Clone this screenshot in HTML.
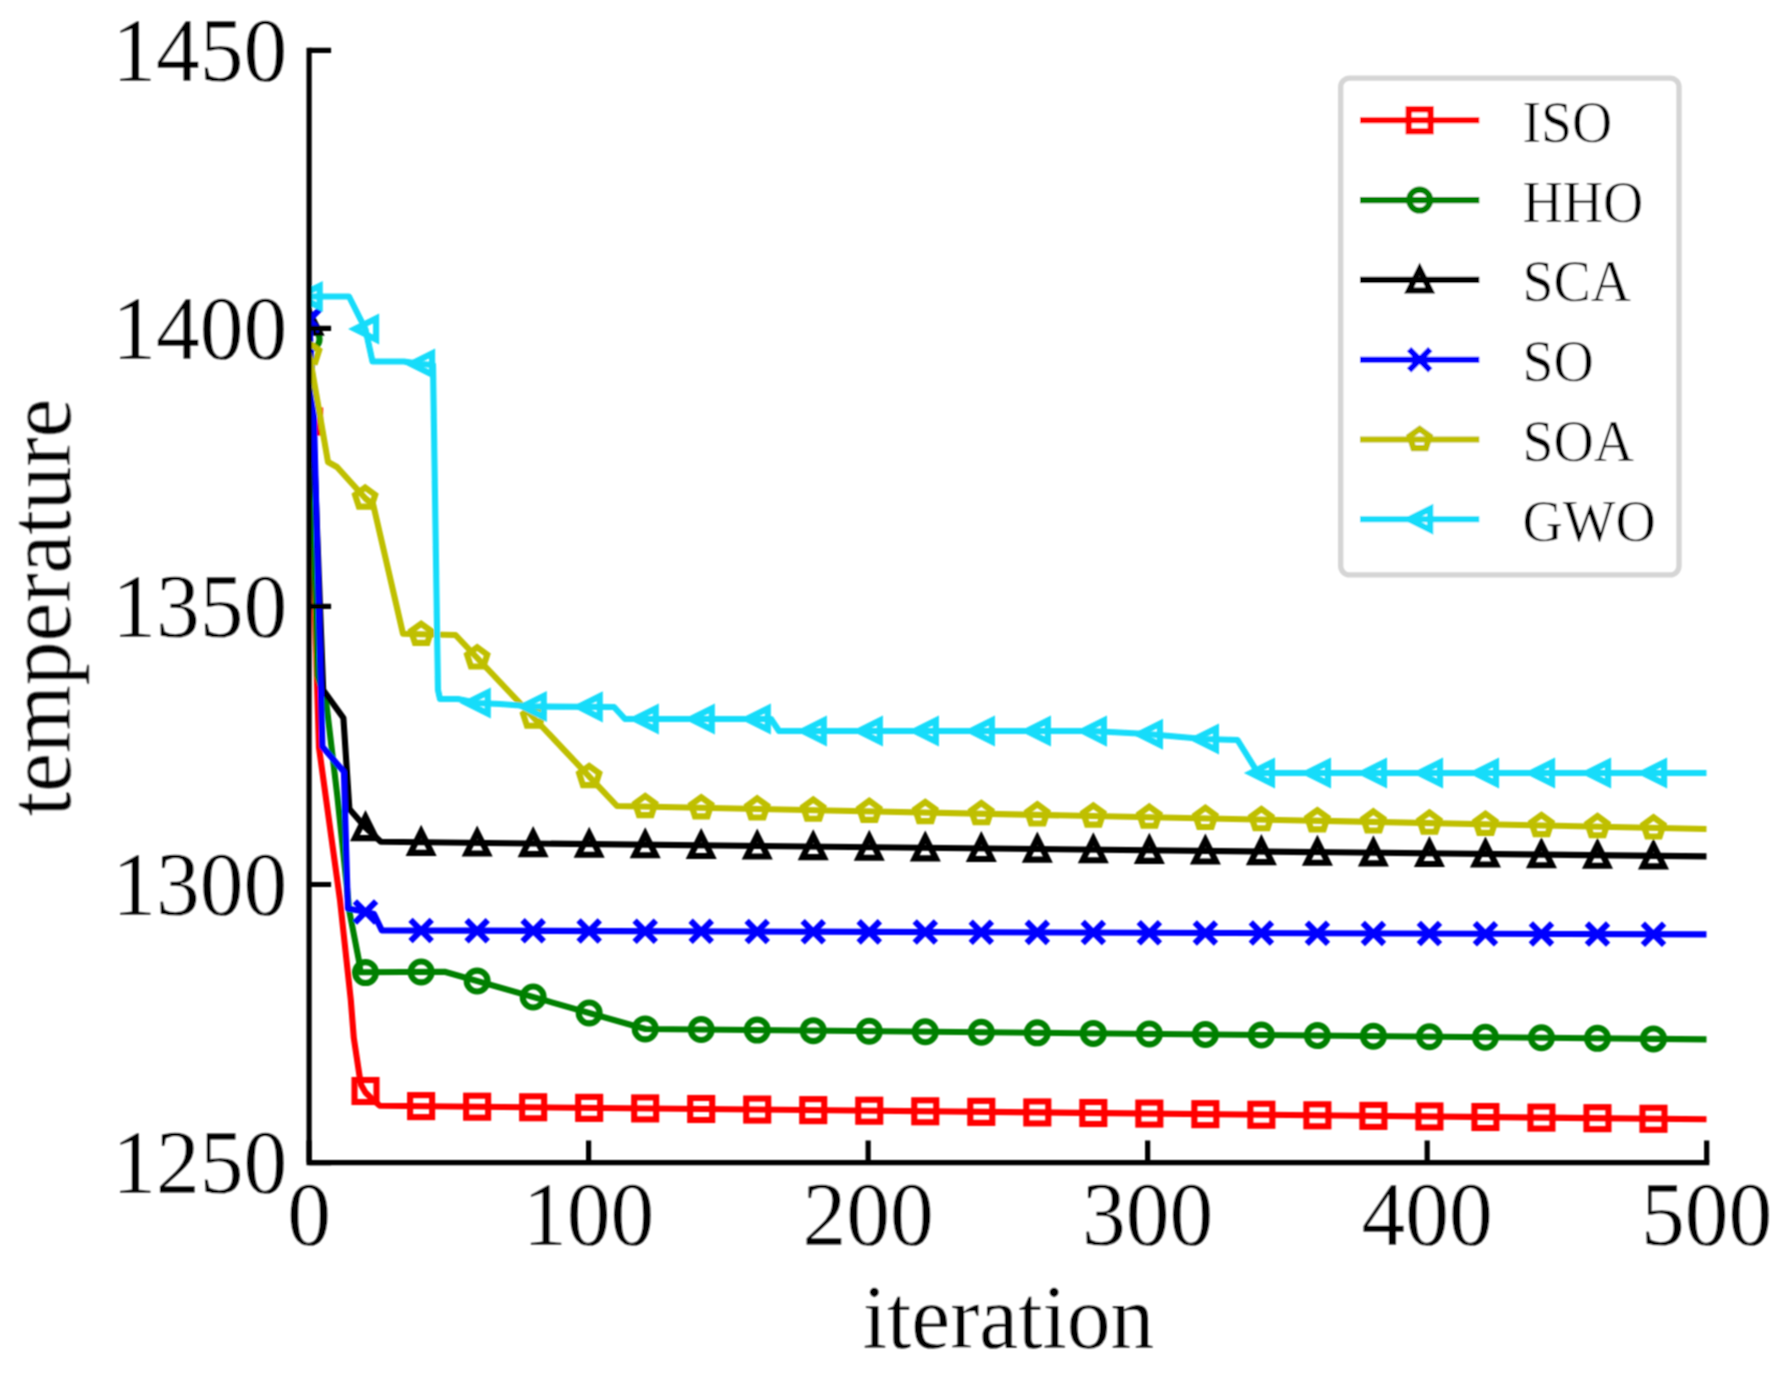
<!DOCTYPE html>
<html><head><meta charset="utf-8"><title>convergence</title>
<style>html,body{margin:0;padding:0;background:#fff}body{width:1785px;height:1373px;overflow:hidden}</style></head>
<body>
<svg width="1785" height="1373" viewBox="0 0 1785 1373" style="display:block">
<rect width="1785" height="1373" fill="#ffffff"/>
<defs><filter id="soft" filterUnits="userSpaceOnUse" x="0" y="0" width="1785" height="1373"><feConvolveMatrix order="3" kernelMatrix="0.0625 0.1250 0.0625 0.1250 0.2500 0.1250 0.0625 0.1250 0.0625" edgeMode="duplicate"/></filter><clipPath id="axclip"><rect x="309.1" y="50.3" width="1397.6" height="1112.26"/></clipPath></defs>
<g filter="url(#soft)">
<g clip-path="url(#axclip)">
<path d="M309.1,421.5 L319.0,747.7 L340.0,900.0 L350.8,1000.0 L353.8,1037.9 L359.8,1077.8 L361.2,1085.0 L365.5,1092.5 L371.8,1098.7 L379.8,1105.7 L1706.7,1119.3" fill="none" stroke="#ff0000" stroke-width="6.1" stroke-linejoin="round" stroke-linecap="butt"/>
<rect x="298.10" y="410.50" width="22.0" height="22.0" fill="none" stroke="#ff0000" stroke-width="6.1" stroke-linejoin="miter"/>
<rect x="354.50" y="1080.00" width="22.0" height="22.0" fill="none" stroke="#ff0000" stroke-width="6.1" stroke-linejoin="miter"/>
<rect x="410.13" y="1095.12" width="22.0" height="22.0" fill="none" stroke="#ff0000" stroke-width="6.1" stroke-linejoin="miter"/>
<rect x="466.15" y="1095.70" width="22.0" height="22.0" fill="none" stroke="#ff0000" stroke-width="6.1" stroke-linejoin="miter"/>
<rect x="522.16" y="1096.27" width="22.0" height="22.0" fill="none" stroke="#ff0000" stroke-width="6.1" stroke-linejoin="miter"/>
<rect x="578.18" y="1096.85" width="22.0" height="22.0" fill="none" stroke="#ff0000" stroke-width="6.1" stroke-linejoin="miter"/>
<rect x="634.20" y="1097.42" width="22.0" height="22.0" fill="none" stroke="#ff0000" stroke-width="6.1" stroke-linejoin="miter"/>
<rect x="690.21" y="1097.99" width="22.0" height="22.0" fill="none" stroke="#ff0000" stroke-width="6.1" stroke-linejoin="miter"/>
<rect x="746.23" y="1098.57" width="22.0" height="22.0" fill="none" stroke="#ff0000" stroke-width="6.1" stroke-linejoin="miter"/>
<rect x="802.24" y="1099.14" width="22.0" height="22.0" fill="none" stroke="#ff0000" stroke-width="6.1" stroke-linejoin="miter"/>
<rect x="858.26" y="1099.72" width="22.0" height="22.0" fill="none" stroke="#ff0000" stroke-width="6.1" stroke-linejoin="miter"/>
<rect x="914.28" y="1100.29" width="22.0" height="22.0" fill="none" stroke="#ff0000" stroke-width="6.1" stroke-linejoin="miter"/>
<rect x="970.29" y="1100.86" width="22.0" height="22.0" fill="none" stroke="#ff0000" stroke-width="6.1" stroke-linejoin="miter"/>
<rect x="1026.31" y="1101.44" width="22.0" height="22.0" fill="none" stroke="#ff0000" stroke-width="6.1" stroke-linejoin="miter"/>
<rect x="1082.32" y="1102.01" width="22.0" height="22.0" fill="none" stroke="#ff0000" stroke-width="6.1" stroke-linejoin="miter"/>
<rect x="1138.34" y="1102.59" width="22.0" height="22.0" fill="none" stroke="#ff0000" stroke-width="6.1" stroke-linejoin="miter"/>
<rect x="1194.36" y="1103.16" width="22.0" height="22.0" fill="none" stroke="#ff0000" stroke-width="6.1" stroke-linejoin="miter"/>
<rect x="1250.37" y="1103.74" width="22.0" height="22.0" fill="none" stroke="#ff0000" stroke-width="6.1" stroke-linejoin="miter"/>
<rect x="1306.39" y="1104.31" width="22.0" height="22.0" fill="none" stroke="#ff0000" stroke-width="6.1" stroke-linejoin="miter"/>
<rect x="1362.40" y="1104.88" width="22.0" height="22.0" fill="none" stroke="#ff0000" stroke-width="6.1" stroke-linejoin="miter"/>
<rect x="1418.42" y="1105.46" width="22.0" height="22.0" fill="none" stroke="#ff0000" stroke-width="6.1" stroke-linejoin="miter"/>
<rect x="1474.44" y="1106.03" width="22.0" height="22.0" fill="none" stroke="#ff0000" stroke-width="6.1" stroke-linejoin="miter"/>
<rect x="1530.45" y="1106.61" width="22.0" height="22.0" fill="none" stroke="#ff0000" stroke-width="6.1" stroke-linejoin="miter"/>
<rect x="1586.47" y="1107.18" width="22.0" height="22.0" fill="none" stroke="#ff0000" stroke-width="6.1" stroke-linejoin="miter"/>
<rect x="1642.48" y="1107.75" width="22.0" height="22.0" fill="none" stroke="#ff0000" stroke-width="6.1" stroke-linejoin="miter"/>
<path d="M309.1,339.0 L317.6,676.0 L326.4,703.9 L337.4,796.6 L349.5,912.0 L358.8,959.8 L360.5,972.3 L444.6,971.8 L645.5,1029.0 L1706.7,1039.4" fill="none" stroke="#008000" stroke-width="6.1" stroke-linejoin="round" stroke-linecap="butt"/>
<circle cx="309.10" cy="339.00" r="10.45" fill="none" stroke="#008000" stroke-width="6.1"/>
<circle cx="365.50" cy="972.60" r="10.45" fill="none" stroke="#008000" stroke-width="6.1"/>
<circle cx="421.13" cy="971.94" r="10.45" fill="none" stroke="#008000" stroke-width="6.1"/>
<circle cx="477.15" cy="981.07" r="10.45" fill="none" stroke="#008000" stroke-width="6.1"/>
<circle cx="533.16" cy="997.02" r="10.45" fill="none" stroke="#008000" stroke-width="6.1"/>
<circle cx="589.18" cy="1012.96" r="10.45" fill="none" stroke="#008000" stroke-width="6.1"/>
<circle cx="645.20" cy="1028.91" r="10.45" fill="none" stroke="#008000" stroke-width="6.1"/>
<circle cx="701.21" cy="1029.55" r="10.45" fill="none" stroke="#008000" stroke-width="6.1"/>
<circle cx="757.23" cy="1030.09" r="10.45" fill="none" stroke="#008000" stroke-width="6.1"/>
<circle cx="813.24" cy="1030.64" r="10.45" fill="none" stroke="#008000" stroke-width="6.1"/>
<circle cx="869.26" cy="1031.19" r="10.45" fill="none" stroke="#008000" stroke-width="6.1"/>
<circle cx="925.28" cy="1031.74" r="10.45" fill="none" stroke="#008000" stroke-width="6.1"/>
<circle cx="981.29" cy="1032.29" r="10.45" fill="none" stroke="#008000" stroke-width="6.1"/>
<circle cx="1037.31" cy="1032.84" r="10.45" fill="none" stroke="#008000" stroke-width="6.1"/>
<circle cx="1093.32" cy="1033.39" r="10.45" fill="none" stroke="#008000" stroke-width="6.1"/>
<circle cx="1149.34" cy="1033.94" r="10.45" fill="none" stroke="#008000" stroke-width="6.1"/>
<circle cx="1205.36" cy="1034.49" r="10.45" fill="none" stroke="#008000" stroke-width="6.1"/>
<circle cx="1261.37" cy="1035.04" r="10.45" fill="none" stroke="#008000" stroke-width="6.1"/>
<circle cx="1317.39" cy="1035.58" r="10.45" fill="none" stroke="#008000" stroke-width="6.1"/>
<circle cx="1373.40" cy="1036.13" r="10.45" fill="none" stroke="#008000" stroke-width="6.1"/>
<circle cx="1429.42" cy="1036.68" r="10.45" fill="none" stroke="#008000" stroke-width="6.1"/>
<circle cx="1485.44" cy="1037.23" r="10.45" fill="none" stroke="#008000" stroke-width="6.1"/>
<circle cx="1541.45" cy="1037.78" r="10.45" fill="none" stroke="#008000" stroke-width="6.1"/>
<circle cx="1597.47" cy="1038.33" r="10.45" fill="none" stroke="#008000" stroke-width="6.1"/>
<circle cx="1653.48" cy="1038.88" r="10.45" fill="none" stroke="#008000" stroke-width="6.1"/>
<path d="M309.1,322.0 L323.2,690.0 L343.4,718.0 L349.4,809.0 L365.5,827.5 L380.8,841.8 L1706.7,856.4" fill="none" stroke="#000000" stroke-width="6.1" stroke-linejoin="round" stroke-linecap="butt"/>
<path d="M309.10,311.40 L298.50,332.60 L319.70,332.60 Z" fill="none" stroke="#000000" stroke-width="6.1" stroke-linejoin="miter" stroke-miterlimit="10"/>
<path d="M365.50,816.90 L354.90,838.10 L376.10,838.10 Z" fill="none" stroke="#000000" stroke-width="6.1" stroke-linejoin="miter" stroke-miterlimit="10"/>
<path d="M421.13,831.64 L410.53,852.84 L431.73,852.84 Z" fill="none" stroke="#000000" stroke-width="6.1" stroke-linejoin="miter" stroke-miterlimit="10"/>
<path d="M477.15,832.26 L466.55,853.46 L487.75,853.46 Z" fill="none" stroke="#000000" stroke-width="6.1" stroke-linejoin="miter" stroke-miterlimit="10"/>
<path d="M533.16,832.88 L522.56,854.08 L543.76,854.08 Z" fill="none" stroke="#000000" stroke-width="6.1" stroke-linejoin="miter" stroke-miterlimit="10"/>
<path d="M589.18,833.49 L578.58,854.69 L599.78,854.69 Z" fill="none" stroke="#000000" stroke-width="6.1" stroke-linejoin="miter" stroke-miterlimit="10"/>
<path d="M645.20,834.11 L634.60,855.31 L655.80,855.31 Z" fill="none" stroke="#000000" stroke-width="6.1" stroke-linejoin="miter" stroke-miterlimit="10"/>
<path d="M701.21,834.73 L690.61,855.93 L711.81,855.93 Z" fill="none" stroke="#000000" stroke-width="6.1" stroke-linejoin="miter" stroke-miterlimit="10"/>
<path d="M757.23,835.34 L746.63,856.54 L767.83,856.54 Z" fill="none" stroke="#000000" stroke-width="6.1" stroke-linejoin="miter" stroke-miterlimit="10"/>
<path d="M813.24,835.96 L802.64,857.16 L823.84,857.16 Z" fill="none" stroke="#000000" stroke-width="6.1" stroke-linejoin="miter" stroke-miterlimit="10"/>
<path d="M869.26,836.58 L858.66,857.78 L879.86,857.78 Z" fill="none" stroke="#000000" stroke-width="6.1" stroke-linejoin="miter" stroke-miterlimit="10"/>
<path d="M925.28,837.20 L914.68,858.40 L935.88,858.40 Z" fill="none" stroke="#000000" stroke-width="6.1" stroke-linejoin="miter" stroke-miterlimit="10"/>
<path d="M981.29,837.81 L970.69,859.01 L991.89,859.01 Z" fill="none" stroke="#000000" stroke-width="6.1" stroke-linejoin="miter" stroke-miterlimit="10"/>
<path d="M1037.31,838.43 L1026.71,859.63 L1047.91,859.63 Z" fill="none" stroke="#000000" stroke-width="6.1" stroke-linejoin="miter" stroke-miterlimit="10"/>
<path d="M1093.32,839.05 L1082.72,860.25 L1103.92,860.25 Z" fill="none" stroke="#000000" stroke-width="6.1" stroke-linejoin="miter" stroke-miterlimit="10"/>
<path d="M1149.34,839.66 L1138.74,860.86 L1159.94,860.86 Z" fill="none" stroke="#000000" stroke-width="6.1" stroke-linejoin="miter" stroke-miterlimit="10"/>
<path d="M1205.36,840.28 L1194.76,861.48 L1215.96,861.48 Z" fill="none" stroke="#000000" stroke-width="6.1" stroke-linejoin="miter" stroke-miterlimit="10"/>
<path d="M1261.37,840.90 L1250.77,862.10 L1271.97,862.10 Z" fill="none" stroke="#000000" stroke-width="6.1" stroke-linejoin="miter" stroke-miterlimit="10"/>
<path d="M1317.39,841.51 L1306.79,862.71 L1327.99,862.71 Z" fill="none" stroke="#000000" stroke-width="6.1" stroke-linejoin="miter" stroke-miterlimit="10"/>
<path d="M1373.40,842.13 L1362.80,863.33 L1384.00,863.33 Z" fill="none" stroke="#000000" stroke-width="6.1" stroke-linejoin="miter" stroke-miterlimit="10"/>
<path d="M1429.42,842.75 L1418.82,863.95 L1440.02,863.95 Z" fill="none" stroke="#000000" stroke-width="6.1" stroke-linejoin="miter" stroke-miterlimit="10"/>
<path d="M1485.44,843.36 L1474.84,864.56 L1496.04,864.56 Z" fill="none" stroke="#000000" stroke-width="6.1" stroke-linejoin="miter" stroke-miterlimit="10"/>
<path d="M1541.45,843.98 L1530.85,865.18 L1552.05,865.18 Z" fill="none" stroke="#000000" stroke-width="6.1" stroke-linejoin="miter" stroke-miterlimit="10"/>
<path d="M1597.47,844.60 L1586.87,865.80 L1608.07,865.80 Z" fill="none" stroke="#000000" stroke-width="6.1" stroke-linejoin="miter" stroke-miterlimit="10"/>
<path d="M1653.48,845.21 L1642.88,866.41 L1664.08,866.41 Z" fill="none" stroke="#000000" stroke-width="6.1" stroke-linejoin="miter" stroke-miterlimit="10"/>
<path d="M309.1,320.0 L313.5,400.0 L322.4,746.7 L343.9,771.7 L347.9,908.6 L364.8,911.8 L374.0,914.0 L381.8,930.4 L1706.7,934.4" fill="none" stroke="#0000ff" stroke-width="6.1" stroke-linejoin="round" stroke-linecap="butt"/>
<path d="M298.50,309.40 L319.70,330.60 M298.50,330.60 L319.70,309.40" fill="none" stroke="#0000ff" stroke-width="6.1" stroke-linecap="butt"/>
<path d="M354.90,901.40 L376.10,922.60 M354.90,922.60 L376.10,901.40" fill="none" stroke="#0000ff" stroke-width="6.1" stroke-linecap="butt"/>
<path d="M410.53,919.92 L431.73,941.12 M410.53,941.12 L431.73,919.92" fill="none" stroke="#0000ff" stroke-width="6.1" stroke-linecap="butt"/>
<path d="M466.55,920.09 L487.75,941.29 M466.55,941.29 L487.75,920.09" fill="none" stroke="#0000ff" stroke-width="6.1" stroke-linecap="butt"/>
<path d="M522.56,920.26 L543.76,941.46 M522.56,941.46 L543.76,920.26" fill="none" stroke="#0000ff" stroke-width="6.1" stroke-linecap="butt"/>
<path d="M578.58,920.43 L599.78,941.63 M578.58,941.63 L599.78,920.43" fill="none" stroke="#0000ff" stroke-width="6.1" stroke-linecap="butt"/>
<path d="M634.60,920.60 L655.80,941.80 M634.60,941.80 L655.80,920.60" fill="none" stroke="#0000ff" stroke-width="6.1" stroke-linecap="butt"/>
<path d="M690.61,920.76 L711.81,941.96 M690.61,941.96 L711.81,920.76" fill="none" stroke="#0000ff" stroke-width="6.1" stroke-linecap="butt"/>
<path d="M746.63,920.93 L767.83,942.13 M746.63,942.13 L767.83,920.93" fill="none" stroke="#0000ff" stroke-width="6.1" stroke-linecap="butt"/>
<path d="M802.64,921.10 L823.84,942.30 M802.64,942.30 L823.84,921.10" fill="none" stroke="#0000ff" stroke-width="6.1" stroke-linecap="butt"/>
<path d="M858.66,921.27 L879.86,942.47 M858.66,942.47 L879.86,921.27" fill="none" stroke="#0000ff" stroke-width="6.1" stroke-linecap="butt"/>
<path d="M914.68,921.44 L935.88,942.64 M914.68,942.64 L935.88,921.44" fill="none" stroke="#0000ff" stroke-width="6.1" stroke-linecap="butt"/>
<path d="M970.69,921.61 L991.89,942.81 M970.69,942.81 L991.89,921.61" fill="none" stroke="#0000ff" stroke-width="6.1" stroke-linecap="butt"/>
<path d="M1026.71,921.78 L1047.91,942.98 M1026.71,942.98 L1047.91,921.78" fill="none" stroke="#0000ff" stroke-width="6.1" stroke-linecap="butt"/>
<path d="M1082.72,921.95 L1103.92,943.15 M1082.72,943.15 L1103.92,921.95" fill="none" stroke="#0000ff" stroke-width="6.1" stroke-linecap="butt"/>
<path d="M1138.74,922.12 L1159.94,943.32 M1138.74,943.32 L1159.94,922.12" fill="none" stroke="#0000ff" stroke-width="6.1" stroke-linecap="butt"/>
<path d="M1194.76,922.29 L1215.96,943.49 M1194.76,943.49 L1215.96,922.29" fill="none" stroke="#0000ff" stroke-width="6.1" stroke-linecap="butt"/>
<path d="M1250.77,922.46 L1271.97,943.66 M1250.77,943.66 L1271.97,922.46" fill="none" stroke="#0000ff" stroke-width="6.1" stroke-linecap="butt"/>
<path d="M1306.79,922.62 L1327.99,943.82 M1306.79,943.82 L1327.99,922.62" fill="none" stroke="#0000ff" stroke-width="6.1" stroke-linecap="butt"/>
<path d="M1362.80,922.79 L1384.00,943.99 M1362.80,943.99 L1384.00,922.79" fill="none" stroke="#0000ff" stroke-width="6.1" stroke-linecap="butt"/>
<path d="M1418.82,922.96 L1440.02,944.16 M1418.82,944.16 L1440.02,922.96" fill="none" stroke="#0000ff" stroke-width="6.1" stroke-linecap="butt"/>
<path d="M1474.84,923.13 L1496.04,944.33 M1474.84,944.33 L1496.04,923.13" fill="none" stroke="#0000ff" stroke-width="6.1" stroke-linecap="butt"/>
<path d="M1530.85,923.30 L1552.05,944.50 M1530.85,944.50 L1552.05,923.30" fill="none" stroke="#0000ff" stroke-width="6.1" stroke-linecap="butt"/>
<path d="M1586.87,923.47 L1608.07,944.67 M1586.87,944.67 L1608.07,923.47" fill="none" stroke="#0000ff" stroke-width="6.1" stroke-linecap="butt"/>
<path d="M1642.88,923.64 L1664.08,944.84 M1642.88,944.84 L1664.08,923.64" fill="none" stroke="#0000ff" stroke-width="6.1" stroke-linecap="butt"/>
<path d="M309.1,353.0 L328.0,462.0 L337.0,467.0 L365.5,498.5 L373.2,504.6 L403.0,633.7 L421.5,634.3 L455.5,635.0 L617.0,806.0 L1706.7,829.0" fill="none" stroke="#bfbf00" stroke-width="6.1" stroke-linejoin="round" stroke-linecap="butt"/>
<path d="M309.10,342.90 L319.18,350.22 L315.33,362.08 L302.87,362.08 L299.02,350.22 Z" fill="none" stroke="#bfbf00" stroke-width="6.1" stroke-linejoin="miter" stroke-miterlimit="10"/>
<path d="M365.12,487.48 L375.20,494.80 L371.35,506.65 L358.89,506.65 L355.03,494.80 Z" fill="none" stroke="#bfbf00" stroke-width="6.1" stroke-linejoin="miter" stroke-miterlimit="10"/>
<path d="M421.13,623.69 L431.21,631.01 L427.36,642.86 L414.90,642.86 L411.05,631.01 Z" fill="none" stroke="#bfbf00" stroke-width="6.1" stroke-linejoin="miter" stroke-miterlimit="10"/>
<path d="M477.15,647.32 L487.23,654.65 L483.38,666.50 L470.92,666.50 L467.07,654.65 Z" fill="none" stroke="#bfbf00" stroke-width="6.1" stroke-linejoin="miter" stroke-miterlimit="10"/>
<path d="M533.16,706.63 L543.25,713.96 L539.39,725.81 L526.93,725.81 L523.08,713.96 Z" fill="none" stroke="#bfbf00" stroke-width="6.1" stroke-linejoin="miter" stroke-miterlimit="10"/>
<path d="M589.18,765.94 L599.26,773.27 L595.41,785.12 L582.95,785.12 L579.10,773.27 Z" fill="none" stroke="#bfbf00" stroke-width="6.1" stroke-linejoin="miter" stroke-miterlimit="10"/>
<path d="M645.20,796.00 L655.28,803.32 L651.43,815.17 L638.97,815.17 L635.11,803.32 Z" fill="none" stroke="#bfbf00" stroke-width="6.1" stroke-linejoin="miter" stroke-miterlimit="10"/>
<path d="M701.21,797.18 L711.29,804.50 L707.44,816.35 L694.98,816.35 L691.13,804.50 Z" fill="none" stroke="#bfbf00" stroke-width="6.1" stroke-linejoin="miter" stroke-miterlimit="10"/>
<path d="M757.23,798.36 L767.31,805.68 L763.46,817.54 L751.00,817.54 L747.15,805.68 Z" fill="none" stroke="#bfbf00" stroke-width="6.1" stroke-linejoin="miter" stroke-miterlimit="10"/>
<path d="M813.24,799.54 L823.33,806.87 L819.47,818.72 L807.01,818.72 L803.16,806.87 Z" fill="none" stroke="#bfbf00" stroke-width="6.1" stroke-linejoin="miter" stroke-miterlimit="10"/>
<path d="M869.26,800.72 L879.34,808.05 L875.49,819.90 L863.03,819.90 L859.18,808.05 Z" fill="none" stroke="#bfbf00" stroke-width="6.1" stroke-linejoin="miter" stroke-miterlimit="10"/>
<path d="M925.28,801.91 L935.36,809.23 L931.51,821.08 L919.05,821.08 L915.19,809.23 Z" fill="none" stroke="#bfbf00" stroke-width="6.1" stroke-linejoin="miter" stroke-miterlimit="10"/>
<path d="M981.29,803.09 L991.37,810.41 L987.52,822.26 L975.06,822.26 L971.21,810.41 Z" fill="none" stroke="#bfbf00" stroke-width="6.1" stroke-linejoin="miter" stroke-miterlimit="10"/>
<path d="M1037.31,804.27 L1047.39,811.60 L1043.54,823.45 L1031.08,823.45 L1027.23,811.60 Z" fill="none" stroke="#bfbf00" stroke-width="6.1" stroke-linejoin="miter" stroke-miterlimit="10"/>
<path d="M1093.32,805.45 L1103.41,812.78 L1099.55,824.63 L1087.09,824.63 L1083.24,812.78 Z" fill="none" stroke="#bfbf00" stroke-width="6.1" stroke-linejoin="miter" stroke-miterlimit="10"/>
<path d="M1149.34,806.64 L1159.42,813.96 L1155.57,825.81 L1143.11,825.81 L1139.26,813.96 Z" fill="none" stroke="#bfbf00" stroke-width="6.1" stroke-linejoin="miter" stroke-miterlimit="10"/>
<path d="M1205.36,807.82 L1215.44,815.14 L1211.59,826.99 L1199.13,826.99 L1195.27,815.14 Z" fill="none" stroke="#bfbf00" stroke-width="6.1" stroke-linejoin="miter" stroke-miterlimit="10"/>
<path d="M1261.37,809.00 L1271.45,816.33 L1267.60,828.18 L1255.14,828.18 L1251.29,816.33 Z" fill="none" stroke="#bfbf00" stroke-width="6.1" stroke-linejoin="miter" stroke-miterlimit="10"/>
<path d="M1317.39,810.18 L1327.47,817.51 L1323.62,829.36 L1311.16,829.36 L1307.31,817.51 Z" fill="none" stroke="#bfbf00" stroke-width="6.1" stroke-linejoin="miter" stroke-miterlimit="10"/>
<path d="M1373.40,811.37 L1383.49,818.69 L1379.63,830.54 L1367.17,830.54 L1363.32,818.69 Z" fill="none" stroke="#bfbf00" stroke-width="6.1" stroke-linejoin="miter" stroke-miterlimit="10"/>
<path d="M1429.42,812.55 L1439.50,819.87 L1435.65,831.72 L1423.19,831.72 L1419.34,819.87 Z" fill="none" stroke="#bfbf00" stroke-width="6.1" stroke-linejoin="miter" stroke-miterlimit="10"/>
<path d="M1485.44,813.73 L1495.52,821.05 L1491.67,832.91 L1479.21,832.91 L1475.35,821.05 Z" fill="none" stroke="#bfbf00" stroke-width="6.1" stroke-linejoin="miter" stroke-miterlimit="10"/>
<path d="M1541.45,814.91 L1551.53,822.24 L1547.68,834.09 L1535.22,834.09 L1531.37,822.24 Z" fill="none" stroke="#bfbf00" stroke-width="6.1" stroke-linejoin="miter" stroke-miterlimit="10"/>
<path d="M1597.47,816.09 L1607.55,823.42 L1603.70,835.27 L1591.24,835.27 L1587.39,823.42 Z" fill="none" stroke="#bfbf00" stroke-width="6.1" stroke-linejoin="miter" stroke-miterlimit="10"/>
<path d="M1653.48,817.28 L1663.57,824.60 L1659.71,836.45 L1647.25,836.45 L1643.40,824.60 Z" fill="none" stroke="#bfbf00" stroke-width="6.1" stroke-linejoin="miter" stroke-miterlimit="10"/>
<path d="M309.1,296.5 L349.0,296.5 L365.4,329.0 L372.5,361.5 L404.0,361.5 L421.5,364.0 L433.0,365.0 L438.0,690.0 L440.0,699.0 L458.0,699.0 L477.5,703.0 L500.0,704.0 L533.5,706.5 L614.0,707.0 L625.0,719.0 L771.0,719.0 L779.0,731.0 L1091.5,731.0 L1147.5,734.0 L1203.5,739.0 L1237.5,740.0 L1258.0,773.0 L1706.7,773.0" fill="none" stroke="#15dcfa" stroke-width="6.1" stroke-linejoin="round" stroke-linecap="butt"/>
<path d="M298.50,296.50 L319.70,285.90 L319.70,307.10 Z" fill="none" stroke="#15dcfa" stroke-width="6.1" stroke-linejoin="miter" stroke-miterlimit="10"/>
<path d="M354.90,329.00 L376.10,318.40 L376.10,339.60 Z" fill="none" stroke="#15dcfa" stroke-width="6.1" stroke-linejoin="miter" stroke-miterlimit="10"/>
<path d="M410.90,364.00 L432.10,353.40 L432.10,374.60 Z" fill="none" stroke="#15dcfa" stroke-width="6.1" stroke-linejoin="miter" stroke-miterlimit="10"/>
<path d="M466.55,702.93 L487.75,692.33 L487.75,713.53 Z" fill="none" stroke="#15dcfa" stroke-width="6.1" stroke-linejoin="miter" stroke-miterlimit="10"/>
<path d="M522.56,706.47 L543.76,695.87 L543.76,717.07 Z" fill="none" stroke="#15dcfa" stroke-width="6.1" stroke-linejoin="miter" stroke-miterlimit="10"/>
<path d="M578.58,706.85 L599.78,696.25 L599.78,717.45 Z" fill="none" stroke="#15dcfa" stroke-width="6.1" stroke-linejoin="miter" stroke-miterlimit="10"/>
<path d="M634.60,719.00 L655.80,708.40 L655.80,729.60 Z" fill="none" stroke="#15dcfa" stroke-width="6.1" stroke-linejoin="miter" stroke-miterlimit="10"/>
<path d="M690.61,719.00 L711.81,708.40 L711.81,729.60 Z" fill="none" stroke="#15dcfa" stroke-width="6.1" stroke-linejoin="miter" stroke-miterlimit="10"/>
<path d="M746.63,719.00 L767.83,708.40 L767.83,729.60 Z" fill="none" stroke="#15dcfa" stroke-width="6.1" stroke-linejoin="miter" stroke-miterlimit="10"/>
<path d="M802.64,731.00 L823.84,720.40 L823.84,741.60 Z" fill="none" stroke="#15dcfa" stroke-width="6.1" stroke-linejoin="miter" stroke-miterlimit="10"/>
<path d="M858.66,731.00 L879.86,720.40 L879.86,741.60 Z" fill="none" stroke="#15dcfa" stroke-width="6.1" stroke-linejoin="miter" stroke-miterlimit="10"/>
<path d="M914.68,731.00 L935.88,720.40 L935.88,741.60 Z" fill="none" stroke="#15dcfa" stroke-width="6.1" stroke-linejoin="miter" stroke-miterlimit="10"/>
<path d="M970.69,731.00 L991.89,720.40 L991.89,741.60 Z" fill="none" stroke="#15dcfa" stroke-width="6.1" stroke-linejoin="miter" stroke-miterlimit="10"/>
<path d="M1026.71,731.00 L1047.91,720.40 L1047.91,741.60 Z" fill="none" stroke="#15dcfa" stroke-width="6.1" stroke-linejoin="miter" stroke-miterlimit="10"/>
<path d="M1082.72,731.10 L1103.92,720.50 L1103.92,741.70 Z" fill="none" stroke="#15dcfa" stroke-width="6.1" stroke-linejoin="miter" stroke-miterlimit="10"/>
<path d="M1138.74,734.16 L1159.94,723.56 L1159.94,744.76 Z" fill="none" stroke="#15dcfa" stroke-width="6.1" stroke-linejoin="miter" stroke-miterlimit="10"/>
<path d="M1194.76,739.05 L1215.96,728.45 L1215.96,749.65 Z" fill="none" stroke="#15dcfa" stroke-width="6.1" stroke-linejoin="miter" stroke-miterlimit="10"/>
<path d="M1250.77,773.00 L1271.97,762.40 L1271.97,783.60 Z" fill="none" stroke="#15dcfa" stroke-width="6.1" stroke-linejoin="miter" stroke-miterlimit="10"/>
<path d="M1306.79,773.00 L1327.99,762.40 L1327.99,783.60 Z" fill="none" stroke="#15dcfa" stroke-width="6.1" stroke-linejoin="miter" stroke-miterlimit="10"/>
<path d="M1362.80,773.00 L1384.00,762.40 L1384.00,783.60 Z" fill="none" stroke="#15dcfa" stroke-width="6.1" stroke-linejoin="miter" stroke-miterlimit="10"/>
<path d="M1418.82,773.00 L1440.02,762.40 L1440.02,783.60 Z" fill="none" stroke="#15dcfa" stroke-width="6.1" stroke-linejoin="miter" stroke-miterlimit="10"/>
<path d="M1474.84,773.00 L1496.04,762.40 L1496.04,783.60 Z" fill="none" stroke="#15dcfa" stroke-width="6.1" stroke-linejoin="miter" stroke-miterlimit="10"/>
<path d="M1530.85,773.00 L1552.05,762.40 L1552.05,783.60 Z" fill="none" stroke="#15dcfa" stroke-width="6.1" stroke-linejoin="miter" stroke-miterlimit="10"/>
<path d="M1586.87,773.00 L1608.07,762.40 L1608.07,783.60 Z" fill="none" stroke="#15dcfa" stroke-width="6.1" stroke-linejoin="miter" stroke-miterlimit="10"/>
<path d="M1642.88,773.00 L1664.08,762.40 L1664.08,783.60 Z" fill="none" stroke="#15dcfa" stroke-width="6.1" stroke-linejoin="miter" stroke-miterlimit="10"/>
</g>
<path d="M309.1,50.30 h22.0 M309.1,328.37 h22.0 M309.1,606.43 h22.0 M309.1,884.49 h22.0 M309.1,1162.56 h22.0 M309.10,1162.56 v-22.0 M588.62,1162.56 v-22.0 M868.14,1162.56 v-22.0 M1147.66,1162.56 v-22.0 M1427.18,1162.56 v-22.0 M1706.70,1162.56 v-22.0" stroke="#000" stroke-width="5.2" fill="none"/>
<path d="M309.1,47.699999999999996 V1165.1599999999999 M306.5,1162.56 H1709.3" stroke="#000" stroke-width="5.2" fill="none"/>
<text transform="translate(287.3,81.0) scale(1,1.04)" text-anchor="end" font-size="87.5" font-family="Liberation Serif, Times New Roman, serif" stroke="#fff" stroke-width="0.35">1450</text>
<text transform="translate(287.3,359.1) scale(1,1.04)" text-anchor="end" font-size="87.5" font-family="Liberation Serif, Times New Roman, serif" stroke="#fff" stroke-width="0.35">1400</text>
<text transform="translate(287.3,637.1) scale(1,1.04)" text-anchor="end" font-size="87.5" font-family="Liberation Serif, Times New Roman, serif" stroke="#fff" stroke-width="0.35">1350</text>
<text transform="translate(287.3,915.2) scale(1,1.04)" text-anchor="end" font-size="87.5" font-family="Liberation Serif, Times New Roman, serif" stroke="#fff" stroke-width="0.35">1300</text>
<text transform="translate(287.3,1193.3) scale(1,1.04)" text-anchor="end" font-size="87.5" font-family="Liberation Serif, Times New Roman, serif" stroke="#fff" stroke-width="0.35">1250</text>
<text transform="translate(309.1,1245) scale(1,1.04)" text-anchor="middle" font-size="87.5" font-family="Liberation Serif, Times New Roman, serif" stroke="#fff" stroke-width="0.35">0</text>
<text transform="translate(588.6,1245) scale(1,1.04)" text-anchor="middle" font-size="87.5" font-family="Liberation Serif, Times New Roman, serif" stroke="#fff" stroke-width="0.35">100</text>
<text transform="translate(868.1,1245) scale(1,1.04)" text-anchor="middle" font-size="87.5" font-family="Liberation Serif, Times New Roman, serif" stroke="#fff" stroke-width="0.35">200</text>
<text transform="translate(1147.7,1245) scale(1,1.04)" text-anchor="middle" font-size="87.5" font-family="Liberation Serif, Times New Roman, serif" stroke="#fff" stroke-width="0.35">300</text>
<text transform="translate(1427.2,1245) scale(1,1.04)" text-anchor="middle" font-size="87.5" font-family="Liberation Serif, Times New Roman, serif" stroke="#fff" stroke-width="0.35">400</text>
<text transform="translate(1706.7,1245) scale(1,1.04)" text-anchor="middle" font-size="87.5" font-family="Liberation Serif, Times New Roman, serif" stroke="#fff" stroke-width="0.35">500</text>
<text transform="translate(1008.5,1348) scale(1,1.04)" text-anchor="middle" font-size="87.5" font-family="Liberation Serif, Times New Roman, serif" stroke="#fff" stroke-width="0.35">iteration</text>
<text transform="translate(70.4,607.5) rotate(-90) scale(1,1.04)" text-anchor="middle" font-size="87.5" font-family="Liberation Serif, Times New Roman, serif" stroke="#fff" stroke-width="0.35">temperature</text>
<rect x="1340.7" y="78.1" width="338.3" height="496.8" rx="9" ry="9" fill="#ffffff" fill-opacity="0.8" stroke="#d5d5d5" stroke-width="5.3"/>
<path d="M1360,120.3 H1479.3" stroke="#ff0000" stroke-width="6.1" fill="none"/>
<rect x="1408.65" y="109.30" width="22.0" height="22.0" fill="none" stroke="#ff0000" stroke-width="6.1" stroke-linejoin="miter"/>
<text transform="translate(1522.5,141.8) scale(1,1.05)" font-size="55.8" font-family="Liberation Serif, Times New Roman, serif" stroke="#fff" stroke-width="0.35">ISO</text>
<path d="M1360,200.1 H1479.3" stroke="#008000" stroke-width="6.1" fill="none"/>
<circle cx="1419.65" cy="200.10" r="10.45" fill="none" stroke="#008000" stroke-width="6.1"/>
<text transform="translate(1522.5,221.6) scale(1,1.05)" font-size="55.8" font-family="Liberation Serif, Times New Roman, serif" stroke="#fff" stroke-width="0.35">HHO</text>
<path d="M1360,279.9 H1479.3" stroke="#000000" stroke-width="6.1" fill="none"/>
<path d="M1419.65,269.30 L1409.05,290.50 L1430.25,290.50 Z" fill="none" stroke="#000000" stroke-width="6.1" stroke-linejoin="miter" stroke-miterlimit="10"/>
<text transform="translate(1522.5,301.4) scale(1,1.05)" font-size="55.8" font-family="Liberation Serif, Times New Roman, serif" stroke="#fff" stroke-width="0.35">SCA</text>
<path d="M1360,359.7 H1479.3" stroke="#0000ff" stroke-width="6.1" fill="none"/>
<path d="M1409.05,349.10 L1430.25,370.30 M1409.05,370.30 L1430.25,349.10" fill="none" stroke="#0000ff" stroke-width="6.1" stroke-linecap="butt"/>
<text transform="translate(1522.5,381.2) scale(1,1.05)" font-size="55.8" font-family="Liberation Serif, Times New Roman, serif" stroke="#fff" stroke-width="0.35">SO</text>
<path d="M1360,439.5 H1479.3" stroke="#bfbf00" stroke-width="6.1" fill="none"/>
<path d="M1419.65,428.90 L1429.73,436.22 L1425.88,448.08 L1413.42,448.08 L1409.57,436.22 Z" fill="none" stroke="#bfbf00" stroke-width="6.1" stroke-linejoin="miter" stroke-miterlimit="10"/>
<text transform="translate(1522.5,461.0) scale(1,1.05)" font-size="55.8" font-family="Liberation Serif, Times New Roman, serif" stroke="#fff" stroke-width="0.35">SOA</text>
<path d="M1360,519.3 H1479.3" stroke="#15dcfa" stroke-width="6.1" fill="none"/>
<path d="M1409.05,519.30 L1430.25,508.70 L1430.25,529.90 Z" fill="none" stroke="#15dcfa" stroke-width="6.1" stroke-linejoin="miter" stroke-miterlimit="10"/>
<text transform="translate(1522.5,540.8) scale(1,1.05)" font-size="55.8" font-family="Liberation Serif, Times New Roman, serif" stroke="#fff" stroke-width="0.35">GWO</text>
</g>
</svg>
</body></html>
